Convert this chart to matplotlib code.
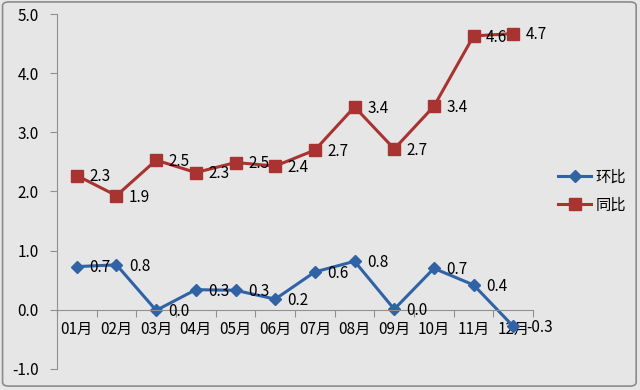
import matplotlib.pyplot as plt
from matplotlib.patches import FancyBboxPatch

plt.rcParams['font.family'] = ['Noto Sans CJK SC', 'DejaVu Sans']

# month labels and the two series
months = ['01月', '02月', '03月', '04月', '05月', '06月',
          '07月', '08月', '09月', '10月', '11月', '12月']
huanbi = [0.73, 0.76, -0.01, 0.34, 0.33, 0.18, 0.64, 0.82, 0.01, 0.70, 0.42, -0.28]
tongbi = [2.27, 1.93, 2.53, 2.32, 2.49, 2.43, 2.70, 3.43, 2.72, 3.44, 4.63, 4.67]
huanbi_labels = ['0.7', '0.8', '0.0', '0.3', '0.3', '0.2', '0.6', '0.8', '0.0', '0.7', '0.4', '-0.3']
tongbi_labels = ['2.3', '1.9', '2.5', '2.3', '2.5', '2.4', '2.7', '3.4', '2.7', '3.4', '4.6', '4.7']

bg = '#e6e6e6'
blue = '#2f63a5'
red = '#a83330'
fs = 11

fig = plt.figure(figsize=(6.4, 3.9), dpi=100, facecolor=bg)
ax = fig.add_axes([0.089, 0.054, 0.744, 0.91])
ax.set_facecolor(bg)

x = list(range(len(months)))
ax.plot(x, huanbi, color=blue, lw=2.2, marker='D', ms=6.5, label='环比')
ax.plot(x, tongbi, color=red, lw=2.2, marker='s', ms=8, label='同比')

# data labels to the right of each point
for i in x:
    ax.annotate(huanbi_labels[i], (i, huanbi[i]), xytext=(9, -1),
                textcoords='offset points', ha='left', va='center', fontsize=fs)
    ax.annotate(tongbi_labels[i], (i, tongbi[i]), xytext=(9, -1),
                textcoords='offset points', ha='left', va='center', fontsize=fs)

ax.set_xlim(-0.5, len(months) - 0.5)
ax.set_ylim(-1.0, 5.0)
ax.set_yticks([-1, 0, 1, 2, 3, 4, 5])
ax.set_yticklabels(['%.1f' % v for v in [-1, 0, 1, 2, 3, 4, 5]], fontsize=fs)

# x axis sits on y=0, ticks between categories
ax.spines['bottom'].set_position(('data', 0))
ax.set_xticks([i - 0.5 for i in range(len(months) + 1)])
ax.set_xticklabels([])
ax.set_xticks(x, minor=True)
ax.set_xticklabels(months, minor=True, fontsize=fs)
ax.tick_params(axis='x', which='minor', length=0, pad=8)
ax.tick_params(axis='x', which='major', length=5, color='#909090')
ax.tick_params(axis='y', length=5, color='#909090', pad=8)

ax.spines['top'].set_visible(False)
ax.spines['right'].set_visible(False)
ax.spines['left'].set_color('#909090')
ax.spines['bottom'].set_color('#909090')

fig.legend(loc='center left', bbox_to_anchor=(0.85, 0.51), frameon=False,
           fontsize=fs, handlelength=2.2, handletextpad=0.3, labelspacing=0.7)

# outer chart frame
frame = FancyBboxPatch((0.004, 0.01), 0.99, 0.985, boxstyle='round,pad=0,rounding_size=0.01',
                       transform=fig.transFigure, fill=False, ec='#8c8c8c', lw=1.2)
fig.patches.append(frame)

fig.savefig('out.png', dpi=100, facecolor=bg)
